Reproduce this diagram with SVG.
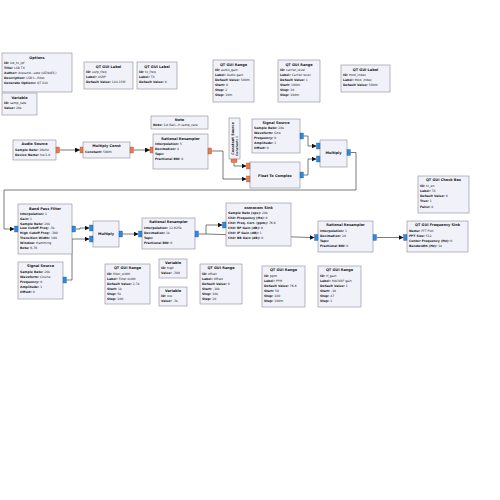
<svg xmlns="http://www.w3.org/2000/svg" width="500" height="500" viewBox="0 0 500 500">
<style>
.b{fill:#f1f1fa;stroke:#8a8a98;stroke-width:0.6}
.t{font-family:"DejaVu Sans",sans-serif;font-size:3.5px;font-weight:bold;text-anchor:middle;fill:#1a1a1a}
.p{font-family:"DejaVu Sans",sans-serif;font-size:3.1px;fill:#1a1a1a}
.k{font-weight:bold}
.of{fill:#f0784a;stroke:#6a4a3a;stroke-width:0.3}
.oc{fill:#2a8ae6;stroke:#2a4a6a;stroke-width:0.3}
.c{fill:none;stroke:#222;stroke-width:0.6;marker-end:url(#a)}
</style>
<defs>
<marker id="a" markerUnits="userSpaceOnUse" markerWidth="6" markerHeight="5" refX="5" refY="2.5" orient="auto"><path d="M0,0 L5,2.5 L0,5 z" fill="#111"/></marker>
</defs>
<rect width="500" height="500" fill="#fff"/>
<g id="connectors">
<path class="c" d="M59.5,150 H80"/>
<path class="c" d="M133.5,150 H150"/>
<path class="c" d="M234,162.5 V166 H246.5"/>
<path class="c" d="M211.5,151 H223 V179 H246.5"/>
<path class="c" d="M303.5,136 H308 V146 H316.5"/>
<path class="c" d="M303.5,175 H308 V159 H316.5"/>
<path class="c" d="M350.5,152.5 H356 V190 H4 V229 H14.5"/>
<path class="c" d="M75.5,229 H80 V228 H89.5"/>
<path class="c" d="M66.5,280 H72 V239 H89.5"/>
<path class="c" d="M122.5,234 H138.5"/>
<path class="c" d="M198.5,234 H206 V225 H222.5"/>
<path class="c" d="M206,234 L310,237.5 H314.5"/>
<path class="c" d="M376.5,237.5 H403.5"/>
</g>
<g id="options">
<rect class="b" x="2" y="53" width="70" height="39"/>
<text class="t" x="37" y="58.5">Options</text>
<text class="p" x="4" y="64"><tspan class="k">ID:</tspan> lsb_tx_lpf</text>
<text class="p" x="4" y="69"><tspan class="k">Title:</tspan> LSB TX</text>
<text class="p" x="4" y="74"><tspan class="k">Author:</tspan> Alexand...sete (OZ9AEC)</text>
<text class="p" x="4" y="79"><tspan class="k">Description:</tspan> LSB t...filter.</text>
<text class="p" x="4" y="84"><tspan class="k">Generate Options:</tspan> QT GUI</text>
</g>
<g id="var_samp_rate">
<rect class="b" x="2" y="93" width="35" height="22"/>
<text class="t" x="19.5" y="98.5">Variable</text>
<text class="p" x="4" y="104"><tspan class="k">ID:</tspan> samp_rate</text>
<text class="p" x="4" y="109"><tspan class="k">Value:</tspan> 20k</text>
</g>
<g id="label_usrp_freq">
<rect class="b" x="84" y="62" width="49" height="27"/>
<text class="t" x="108.5" y="67.5">QT GUI Label</text>
<text class="p" x="86" y="73"><tspan class="k">ID:</tspan> usrp_freq</text>
<text class="p" x="86" y="78"><tspan class="k">Label:</tspan> USRP</text>
<text class="p" x="86" y="83"><tspan class="k">Default Value:</tspan> 144.15M</text>
</g>
<g id="label_tx_freq">
<rect class="b" x="137" y="62" width="40" height="27"/>
<text class="t" x="157" y="67.5">QT GUI Label</text>
<text class="p" x="139" y="73"><tspan class="k">ID:</tspan> tx_freq</text>
<text class="p" x="139" y="78"><tspan class="k">Label:</tspan> TX</text>
<text class="p" x="139" y="83"><tspan class="k">Default Value:</tspan> 0</text>
</g>
<g id="range_audio_gain">
<rect class="b" x="213" y="60" width="41" height="42"/>
<text class="t" x="233.5" y="65.5">QT GUI Range</text>
<text class="p" x="215" y="71"><tspan class="k">ID:</tspan> audio_gain</text>
<text class="p" x="215" y="76"><tspan class="k">Label:</tspan> Audio gain</text>
<text class="p" x="215" y="81"><tspan class="k">Default Value:</tspan> 500m</text>
<text class="p" x="215" y="86"><tspan class="k">Start:</tspan> 0</text>
<text class="p" x="215" y="91"><tspan class="k">Stop:</tspan> 2</text>
<text class="p" x="215" y="96"><tspan class="k">Step:</tspan> 10m</text>
</g>
<g id="range_carrier_level">
<rect class="b" x="278" y="60" width="42" height="42"/>
<text class="t" x="299" y="65.5">QT GUI Range</text>
<text class="p" x="280" y="71"><tspan class="k">ID:</tspan> carrier_level</text>
<text class="p" x="280" y="76"><tspan class="k">Label:</tspan> Carrier level</text>
<text class="p" x="280" y="81"><tspan class="k">Default Value:</tspan> 1</text>
<text class="p" x="280" y="86"><tspan class="k">Start:</tspan> 100m</text>
<text class="p" x="280" y="91"><tspan class="k">Stop:</tspan> 10</text>
<text class="p" x="280" y="96"><tspan class="k">Step:</tspan> 100m</text>
</g>
<g id="label_mod_index">
<rect class="b" x="341" y="65" width="49" height="27"/>
<text class="t" x="365.5" y="70.5">QT GUI Label</text>
<text class="p" x="343" y="76"><tspan class="k">ID:</tspan> mod_index</text>
<text class="p" x="343" y="81"><tspan class="k">Label:</tspan> Mod. index</text>
<text class="p" x="343" y="86"><tspan class="k">Default Value:</tspan> 500m</text>
</g>
<g id="audio_source">
<rect class="b" x="13" y="140" width="43" height="20"/>
<text class="t" x="34.5" y="145">Audio Source</text>
<text class="p" x="15" y="151"><tspan class="k">Sample Rate:</tspan> 16kHz</text>
<text class="p" x="15" y="156"><tspan class="k">Device Name:</tspan> hw:1,0</text>
<rect class="of" x="56" y="147" width="3.5" height="6"/>
</g>
<g id="multiply_const">
<rect class="b" x="83" y="142" width="47" height="16"/>
<text class="t" x="106.5" y="147">Multiply Const</text>
<text class="p" x="85" y="153"><tspan class="k">Constant:</tspan> 500m</text>
<rect class="of" x="80" y="147" width="3" height="6"/>
<rect class="of" x="130" y="147" width="3.5" height="6"/>
</g>
<g id="note">
<rect class="b" x="151" y="116" width="57" height="13"/>
<text class="t" x="179.5" y="120.5">Note</text>
<text class="p" x="153" y="126"><tspan class="k">Note:</tspan> 1st Rati...h samp_rate.</text>
</g>
<g id="rational_resampler_1">
<rect class="b" x="153" y="134" width="55" height="35"/>
<text class="t" x="180.5" y="139.5">Rational Resampler</text>
<text class="p" x="155" y="145"><tspan class="k">Interpolation:</tspan> 5</text>
<text class="p" x="155" y="150"><tspan class="k">Decimation:</tspan> 4</text>
<text class="p" x="155" y="155"><tspan class="k">Taps:</tspan></text>
<text class="p" x="155" y="160"><tspan class="k">Fractional BW:</tspan> 0</text>
<rect class="of" x="150" y="147" width="3" height="6"/>
<rect class="of" x="208" y="148" width="3.5" height="6"/>
</g>
<g id="constant_source">
<rect class="b" x="229" y="118" width="11" height="41"/>
<text class="t" transform="translate(233.5,138.5) rotate(-90)" x="0" y="0">Constant Source</text>
<text class="p" transform="translate(237.8,156) rotate(-90)" x="0" y="0"><tspan class="k">Constant:</tspan> 0</text>
<rect class="of" x="231" y="159" width="6" height="3.5"/>
</g>
<g id="signal_source_1">
<rect class="b" x="252" y="119" width="48" height="34"/>
<text class="t" x="276" y="124">Signal Source</text>
<text class="p" x="254" y="129"><tspan class="k">Sample Rate:</tspan> 20k</text>
<text class="p" x="254" y="134"><tspan class="k">Waveform:</tspan> Sine</text>
<text class="p" x="254" y="139"><tspan class="k">Frequency:</tspan> 0</text>
<text class="p" x="254" y="144"><tspan class="k">Amplitude:</tspan> 1</text>
<text class="p" x="254" y="149"><tspan class="k">Offset:</tspan> 0</text>
<rect class="oc" x="300" y="133" width="3.5" height="6"/>
</g>
<g id="float_to_complex">
<rect class="b" x="250" y="162" width="50" height="26"/>
<text class="t" x="275" y="176.5">Float To Complex</text>
<rect class="of" x="246.5" y="163" width="3.5" height="6"/>
<rect class="of" x="246.5" y="176" width="3.5" height="6"/>
<rect class="oc" x="300" y="172" width="3.5" height="6"/>
</g>
<g id="multiply_1">
<rect class="b" x="320" y="140" width="27" height="27"/>
<text class="t" x="333.5" y="154">Multiply</text>
<rect class="oc" x="316.5" y="143" width="3.5" height="6"/>
<rect class="oc" x="316.5" y="156" width="3.5" height="6"/>
<rect class="oc" x="347" y="149.5" width="3.5" height="6"/>
</g>
<g id="band_pass_filter">
<rect class="b" x="18" y="204" width="54" height="50"/>
<text class="t" x="45" y="209.5">Band Pass Filter</text>
<text class="p" x="20" y="215"><tspan class="k">Interpolation:</tspan> 1</text>
<text class="p" x="20" y="219.8"><tspan class="k">Gain:</tspan> 1</text>
<text class="p" x="20" y="224.6"><tspan class="k">Sample Rate:</tspan> 20k</text>
<text class="p" x="20" y="229.4"><tspan class="k">Low Cutoff Freq:</tspan> -3k</text>
<text class="p" x="20" y="234.2"><tspan class="k">High Cutoff Freq:</tspan> -300</text>
<text class="p" x="20" y="239"><tspan class="k">Transition Width:</tspan> 100</text>
<text class="p" x="20" y="243.8"><tspan class="k">Window:</tspan> Hamming</text>
<text class="p" x="20" y="248.6"><tspan class="k">Beta:</tspan> 6.76</text>
<rect class="oc" x="14.5" y="226" width="3.5" height="6"/>
<rect class="oc" x="72" y="226" width="3.5" height="6"/>
</g>
<g id="signal_source_2">
<rect class="b" x="18" y="262" width="45" height="37"/>
<text class="t" x="40.5" y="267">Signal Source</text>
<text class="p" x="20" y="273"><tspan class="k">Sample Rate:</tspan> 20k</text>
<text class="p" x="20" y="278"><tspan class="k">Waveform:</tspan> Cosine</text>
<text class="p" x="20" y="283"><tspan class="k">Frequency:</tspan> 0</text>
<text class="p" x="20" y="288"><tspan class="k">Amplitude:</tspan> 1</text>
<text class="p" x="20" y="293"><tspan class="k">Offset:</tspan> 0</text>
<rect class="oc" x="63" y="277" width="3.5" height="6"/>
</g>
<g id="multiply_2">
<rect class="b" x="93" y="221" width="26" height="26"/>
<text class="t" x="106" y="235">Multiply</text>
<rect class="oc" x="89.5" y="225" width="3.5" height="6"/>
<rect class="oc" x="89.5" y="236" width="3.5" height="6"/>
<rect class="oc" x="119" y="231" width="3.5" height="6"/>
</g>
<g id="rational_resampler_2">
<rect class="b" x="142" y="218" width="53" height="31"/>
<text class="t" x="168.5" y="223">Rational Resampler</text>
<text class="p" x="144" y="229"><tspan class="k">Interpolation:</tspan> 12.625k</text>
<text class="p" x="144" y="234"><tspan class="k">Decimation:</tspan> 1k</text>
<text class="p" x="144" y="239"><tspan class="k">Taps:</tspan></text>
<text class="p" x="144" y="244"><tspan class="k">Fractional BW:</tspan> 0</text>
<rect class="oc" x="138.5" y="231" width="3.5" height="6"/>
<rect class="oc" x="195" y="231" width="3.5" height="6"/>
</g>
<g id="osmocom_sink">
<rect class="b" x="226" y="203" width="65" height="43"/>
<text class="t" x="258.5" y="208.5">osmocom Sink</text>
<text class="p" x="228" y="214"><tspan class="k">Sample Rate (sps):</tspan> 20k</text>
<text class="p" x="228" y="219"><tspan class="k">Ch0: Frequency (Hz):</tspan> 0</text>
<text class="p" x="228" y="224"><tspan class="k">Ch0: Freq. Corr. (ppm):</tspan> 76.6</text>
<text class="p" x="228" y="229"><tspan class="k">Ch0: RF Gain (dB):</tspan> 0</text>
<text class="p" x="228" y="234"><tspan class="k">Ch0: IF Gain (dB):</tspan> 1</text>
<text class="p" x="228" y="239"><tspan class="k">Ch0: BB Gain (dB):</tspan> 0</text>
<rect class="oc" x="222.5" y="222" width="3.5" height="6"/>
</g>
<g id="rational_resampler_3">
<rect class="b" x="318" y="221" width="55" height="31"/>
<text class="t" x="345.5" y="226">Rational Resampler</text>
<text class="p" x="320" y="232"><tspan class="k">Interpolation:</tspan> 1</text>
<text class="p" x="320" y="237"><tspan class="k">Decimation:</tspan> 20</text>
<text class="p" x="320" y="242"><tspan class="k">Taps:</tspan></text>
<text class="p" x="320" y="247"><tspan class="k">Fractional BW:</tspan> 0</text>
<rect class="oc" x="314.5" y="234.5" width="3.5" height="6"/>
<rect class="oc" x="373" y="234.5" width="3.5" height="6"/>
</g>
<g id="freq_sink">
<rect class="b" x="407" y="221" width="61" height="31"/>
<text class="t" x="437.5" y="226">QT GUI Frequency Sink</text>
<text class="p" x="409" y="232"><tspan class="k">Name:</tspan> FFT Plot</text>
<text class="p" x="409" y="237"><tspan class="k">FFT Size:</tspan> 512</text>
<text class="p" x="409" y="242"><tspan class="k">Center Frequency (Hz):</tspan> 0</text>
<text class="p" x="409" y="247"><tspan class="k">Bandwidth (Hz):</tspan> 1k</text>
<rect class="oc" x="403.5" y="234.5" width="3.5" height="6"/>
</g>
<g id="check_box">
<rect class="b" x="418" y="176" width="51" height="37"/>
<text class="t" x="443.5" y="181">QT GUI Check Box</text>
<text class="p" x="420" y="186.5"><tspan class="k">ID:</tspan> tx_en</text>
<text class="p" x="420" y="191.5"><tspan class="k">Label:</tspan> TX</text>
<text class="p" x="420" y="197"><tspan class="k">Default Value:</tspan> 0</text>
<text class="p" x="420" y="202"><tspan class="k">True:</tspan> 1</text>
<text class="p" x="420" y="207.5"><tspan class="k">False:</tspan> 0</text>
</g>
<g id="range_filter_width">
<rect class="b" x="105" y="264" width="45" height="40"/>
<text class="t" x="127.5" y="269">QT GUI Range</text>
<text class="p" x="107" y="274.5"><tspan class="k">ID:</tspan> filter_width</text>
<text class="p" x="107" y="279.5"><tspan class="k">Label:</tspan> Filter width</text>
<text class="p" x="107" y="284.5"><tspan class="k">Default Value:</tspan> 2.7k</text>
<text class="p" x="107" y="289.5"><tspan class="k">Start:</tspan> 1k</text>
<text class="p" x="107" y="294.5"><tspan class="k">Stop:</tspan> 5k</text>
<text class="p" x="107" y="299.5"><tspan class="k">Step:</tspan> 100</text>
</g>
<g id="var_high">
<rect class="b" x="159" y="259" width="28" height="19"/>
<text class="t" x="173" y="263.5">Variable</text>
<text class="p" x="161" y="269"><tspan class="k">ID:</tspan> high</text>
<text class="p" x="161" y="274"><tspan class="k">Value:</tspan> -300</text>
</g>
<g id="var_low">
<rect class="b" x="159" y="287" width="28" height="19"/>
<text class="t" x="173" y="291.5">Variable</text>
<text class="p" x="161" y="297"><tspan class="k">ID:</tspan> low</text>
<text class="p" x="161" y="302"><tspan class="k">Value:</tspan> -3k</text>
</g>
<g id="range_offset">
<rect class="b" x="200" y="264" width="42" height="40"/>
<text class="t" x="221" y="269">QT GUI Range</text>
<text class="p" x="202" y="274.5"><tspan class="k">ID:</tspan> offset</text>
<text class="p" x="202" y="279.5"><tspan class="k">Label:</tspan> Offset</text>
<text class="p" x="202" y="284.5"><tspan class="k">Default Value:</tspan> 0</text>
<text class="p" x="202" y="289.5"><tspan class="k">Start:</tspan> -10k</text>
<text class="p" x="202" y="294.5"><tspan class="k">Stop:</tspan> 10k</text>
<text class="p" x="202" y="299.5"><tspan class="k">Step:</tspan> 20</text>
</g>
<g id="range_ppm">
<rect class="b" x="262" y="266" width="43" height="41"/>
<text class="t" x="283.5" y="271">QT GUI Range</text>
<text class="p" x="264" y="276.5"><tspan class="k">ID:</tspan> ppm</text>
<text class="p" x="264" y="281.5"><tspan class="k">Label:</tspan> PPM</text>
<text class="p" x="264" y="286.5"><tspan class="k">Default Value:</tspan> 76.6</text>
<text class="p" x="264" y="291.5"><tspan class="k">Start:</tspan> 50</text>
<text class="p" x="264" y="296.5"><tspan class="k">Stop:</tspan> 100</text>
<text class="p" x="264" y="301.5"><tspan class="k">Step:</tspan> 100m</text>
</g>
<g id="range_rf_gain">
<rect class="b" x="318" y="266" width="43" height="41"/>
<text class="t" x="339.5" y="271">QT GUI Range</text>
<text class="p" x="320" y="276.5"><tspan class="k">ID:</tspan> rf_gain</text>
<text class="p" x="320" y="281.5"><tspan class="k">Label:</tspan> HACKRF gain</text>
<text class="p" x="320" y="286.5"><tspan class="k">Default Value:</tspan> 1</text>
<text class="p" x="320" y="291.5"><tspan class="k">Start:</tspan> -10</text>
<text class="p" x="320" y="296.5"><tspan class="k">Stop:</tspan> 47</text>
<text class="p" x="320" y="301.5"><tspan class="k">Step:</tspan> 1</text>
</g>
</svg>
